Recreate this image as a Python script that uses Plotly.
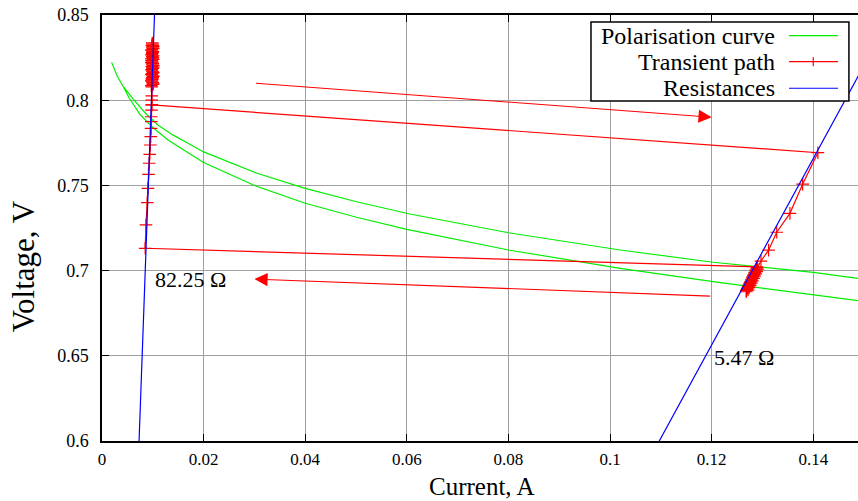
import plotly.graph_objects as go

# ---------------- data ----------------
# Polarisation curve (two sweep branches), current [A], voltage [V]
pol_lower_I = [0.0019, 0.0030, 0.0042, 0.0054, 0.0075, 0.0100, 0.0130, 0.0173, 0.0199, 0.0298, 0.0400, 0.0501,
               0.0600, 0.0800, 0.1020, 0.1203, 0.1400, 0.1488, 0.1550]
pol_lower_V = [0.8222, 0.8140, 0.8079, 0.8010, 0.7915, 0.7840, 0.7766, 0.7684, 0.7636, 0.7502, 0.7395, 0.7313,
               0.7242, 0.7121, 0.7013, 0.6935, 0.6857, 0.6823, 0.6800]
pol_upper_I = [0.1550, 0.1488, 0.1400, 0.1203, 0.1020, 0.0800, 0.0606, 0.0501, 0.0400, 0.0305,
               0.0199, 0.0173, 0.0140, 0.0110, 0.0085, 0.0062, 0.0042]
pol_upper_V = [0.6930, 0.6955, 0.6990, 0.7049, 0.7121, 0.7222, 0.7332, 0.7404, 0.7483, 0.7571,
               0.7698, 0.7741, 0.7795, 0.7855, 0.7925, 0.8005, 0.8079]

# Transient path
jump_start_I = [0.0098]
jump_start_V = [0.7972]
decay_I = [0.1409, 0.1379, 0.1354, 0.1328, 0.1312, 0.1297]
decay_V = [0.7692, 0.7507, 0.7336, 0.7225, 0.7120, 0.7056]
right_cluster_I = [0.12895, 0.12873, 0.12884, 0.12851, 0.12863, 0.12830, 0.12843, 0.12808, 0.12821,
                   0.12788, 0.12800, 0.12766, 0.12778, 0.12744, 0.12756, 0.12722, 0.12734, 0.12701,
                   0.12712, 0.12681, 0.12692, 0.12682, 0.12717, 0.12739, 0.12760, 0.12782, 0.12802,
                   0.12824, 0.12845, 0.12867, 0.12887, 0.12909, 0.12890]
right_cluster_V = [0.7018, 0.7004, 0.7011, 0.6990, 0.6998, 0.6977, 0.6985, 0.6963, 0.6971,
                   0.6950, 0.6958, 0.6936, 0.6944, 0.6922, 0.6930, 0.6908, 0.6916, 0.6895,
                   0.6902, 0.6882, 0.6889, 0.6876, 0.6886, 0.6900, 0.6913, 0.6927, 0.6940,
                   0.6954, 0.6967, 0.6981, 0.6994, 0.7008, 0.7022]
rise_I = [0.0085, 0.00866, 0.00892, 0.00905, 0.00915, 0.00928, 0.0094, 0.0095, 0.0096, 0.00965,
          0.0097, 0.0097, 0.00975, 0.0098, 0.0098, 0.0098]
rise_V = [0.7131, 0.7268, 0.7399, 0.7483, 0.7565, 0.7630, 0.7682, 0.7737, 0.7786, 0.7835,
          0.7874, 0.7903, 0.7942, 0.7972, 0.8001, 0.8025]
left_cluster_I = [0.0098, 0.0100, 0.0097, 0.0099, 0.0101, 0.0098, 0.0100, 0.0099, 0.0097, 0.0100,
                  0.0098, 0.0101, 0.0099, 0.0098, 0.0100, 0.0099, 0.0097, 0.0100, 0.0101, 0.0098,
                  0.0099, 0.0100, 0.0098, 0.0101, 0.0099, 0.0100, 0.0098, 0.0099, 0.0101, 0.0097,
                  0.0100, 0.0098, 0.0099, 0.0101, 0.0098, 0.0100, 0.0097, 0.0099, 0.0100, 0.0098,
                  0.0101, 0.0099, 0.0098, 0.0100, 0.0099, 0.0097, 0.0100, 0.0101, 0.0098, 0.0099,
                  0.0100, 0.0098, 0.0101, 0.0099, 0.0100, 0.0099]
left_cluster_V = [0.8078, 0.8092, 0.8085, 0.8101, 0.8096, 0.8112, 0.8105, 0.8121, 0.8114, 0.8131,
                  0.8125, 0.8140, 0.8133, 0.8149, 0.8143, 0.8158, 0.8151, 0.8167, 0.8162, 0.8176,
                  0.8170, 0.8186, 0.8179, 0.8194, 0.8188, 0.8203, 0.8197, 0.8212, 0.8205, 0.8221,
                  0.8216, 0.8230, 0.8224, 0.8239, 0.8232, 0.8248, 0.8243, 0.8257, 0.8250, 0.8266,
                  0.8261, 0.8275, 0.8268, 0.8284, 0.8279, 0.8293, 0.8286, 0.8302, 0.8297, 0.8311,
                  0.8304, 0.8320, 0.8314, 0.8329, 0.8322, 0.8336]

# Load resistances [Ohm] and the current span of each load line
resistances = [82.25, 5.47]
res_I_span = [[0.0, 0.0110], [0.0, 0.1600]]
res_labels = ["82.25 Ω", "5.47 Ω"]
res_label_I = [0.0100, 0.1200]
res_label_V = [0.6945, 0.6490]

# Arrows (tail -> head)
arrow_tail_I = [0.030, 0.120]
arrow_tail_V = [0.810, 0.685]
arrow_head_I = [0.120, 0.030]
arrow_head_V = [0.790, 0.695]

x_ticks = [0, 0.02, 0.04, 0.06, 0.08, 0.1, 0.12, 0.14]
x_ticktext = ["0", "0.02", "0.04", "0.06", "0.08", "0.1", "0.12", "0.14"]
y_ticks = [0.6, 0.65, 0.7, 0.75, 0.8, 0.85]
y_ticktext = ["0.6", "0.65", "0.7", "0.75", "0.8", "0.85"]

legend_names = ["Polarisation curve", "Transient path", "Resistances"]
legend_colors = ["#00ee00", "#ff0000", "#0000ff"]
x_title = "Current, A"
y_title = "Voltage, V"

FONT = "Liberation Serif"

# ---------------- figure ----------------
fig = go.Figure()

pol_I = pol_lower_I + pol_upper_I
pol_V = pol_lower_V + pol_upper_V
fig.add_trace(go.Scatter(x=pol_I, y=pol_V, mode="lines",
                         line=dict(color=legend_colors[0], width=1.2),
                         name=legend_names[0], showlegend=False))

path_I = jump_start_I + decay_I + right_cluster_I + rise_I + left_cluster_I
path_V = jump_start_V + decay_V + right_cluster_V + rise_V + left_cluster_V
fig.add_trace(go.Scatter(x=path_I, y=path_V, mode="lines+markers",
                         line=dict(color=legend_colors[1], width=1.2),
                         marker=dict(symbol="cross-thin", size=9,
                                     line=dict(color=legend_colors[1], width=1.2)),
                         name=legend_names[1], showlegend=False))

for R, span in zip(resistances, res_I_span):
    fig.add_trace(go.Scatter(x=span, y=[R * i for i in span], mode="lines",
                             line=dict(color=legend_colors[2], width=1.2),
                             name=legend_names[2], showlegend=False))

annotations = []
for txt, xi, yv in zip(res_labels, res_label_I, res_label_V):
    annotations.append(dict(x=xi, y=yv, xref="x", yref="y", text=txt, showarrow=False,
                            xanchor="left", yanchor="middle",
                            font=dict(family=FONT, size=22, color="black")))
for tx, ty, hx, hy in zip(arrow_tail_I, arrow_tail_V, arrow_head_I, arrow_head_V):
    annotations.append(dict(x=hx, y=hy, ax=tx, ay=ty, xref="x", yref="y",
                            axref="x", ayref="y", text="", showarrow=True,
                            arrowhead=2, arrowsize=2.4, arrowwidth=1.1,
                            arrowcolor="#ff0000"))

# axis titles
annotations.append(dict(x=0.503, y=-0.1075, xref="paper", yref="paper", text=x_title,
                        showarrow=False, xanchor="center", yanchor="middle",
                        font=dict(family=FONT, size=25, color="black")))
annotations.append(dict(x=-0.1045, y=0.410, xref="paper", yref="paper", text=y_title,
                        showarrow=False, xanchor="center", yanchor="middle", textangle=-90,
                        font=dict(family=FONT, size=31, color="black")))

# custom legend (text right-aligned, sample on the right like the original)
leg_x0, leg_x1, leg_y0, leg_y1 = 0.6468, 0.988, 0.798, 0.9836
row_y = [0.9514, 0.8904, 0.828]
shapes = [dict(type="rect", xref="paper", yref="paper", x0=leg_x0, x1=leg_x1,
               y0=leg_y0, y1=leg_y1, line=dict(color="black", width=1.5),
               fillcolor="white", layer="above")]
for name, col, yy in zip(legend_names, legend_colors, row_y):
    annotations.append(dict(x=0.893, y=yy, xref="paper", yref="paper", text=name,
                            showarrow=False, xanchor="right", yanchor="middle",
                            font=dict(family=FONT, size=24, color="black")))
    shapes.append(dict(type="line", xref="paper", yref="paper", x0=0.9087, x1=0.9735,
                       y0=yy, y1=yy, line=dict(color=col, width=1.2), layer="above"))
shapes.append(dict(type="line", xref="paper", yref="paper", x0=0.9408, x1=0.9408,
                   y0=row_y[1] - 0.0105, y1=row_y[1] + 0.0105,
                   line=dict(color=legend_colors[1], width=1.2), layer="above"))

fig.update_layout(
    width=858, height=501,
    margin=dict(l=102, r=0, t=15, b=60),
    paper_bgcolor="white", plot_bgcolor="white",
    showlegend=False,
    font=dict(family=FONT, color="black"),
    annotations=annotations, shapes=shapes,
)
fig.update_xaxes(range=[0, 0.1488], tickvals=x_ticks, ticktext=x_ticktext,
                 showgrid=True, gridcolor="#a0a0a0", gridwidth=1, zeroline=False,
                 showline=True, linecolor="black", linewidth=1.5, mirror="ticks",
                 ticks="inside", ticklen=7, tickcolor="black", tickwidth=1,
                 ticklabelstandoff=2,
                 tickfont=dict(family=FONT, size=17, color="black"))
fig.update_yaxes(range=[0.6, 0.85], tickvals=y_ticks, ticktext=y_ticktext,
                 showgrid=True, gridcolor="#a0a0a0", gridwidth=1, zeroline=False,
                 showline=True, linecolor="black", linewidth=1.5, mirror=False,
                 ticks="inside", ticklen=7, tickcolor="black", tickwidth=1,
                 ticklabelstandoff=8,
                 tickfont=dict(family=FONT, size=18, color="black"))

fig.write_html("out.html")
